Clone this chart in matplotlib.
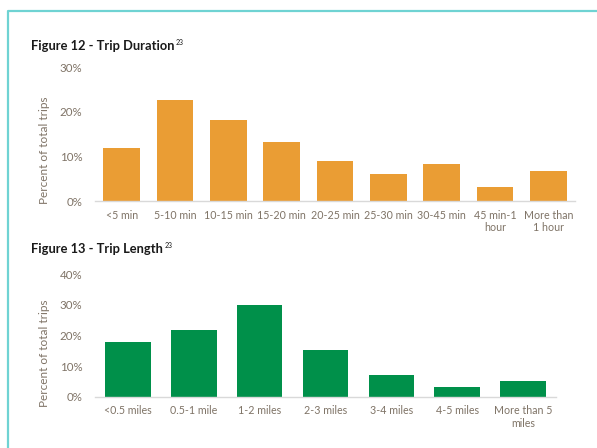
import matplotlib
matplotlib.use("Agg")
import matplotlib.pyplot as plt
from matplotlib.lines import Line2D
from matplotlib.ticker import FuncFormatter

dur_labels = ["<5 min", "5-10 min", "10-15 min", "15-20 min", "20-25 min",
              "25-30 min", "30-45 min", "45 min-1\nhour", "More than\n1 hour"]
dur_values = [11.9, 22.6, 18.1, 13.3, 9.0, 6.1, 8.4, 3.1, 6.8]

len_labels = ["<0.5 miles", "0.5-1 mile", "1-2 miles", "2-3 miles",
              "3-4 miles", "4-5 miles", "More than 5\nmiles"]
len_values = [17.8, 21.8, 30.0, 15.3, 7.1, 3.3, 5.1]

W, H = 597, 448
plt.rcParams['font.family'] = ['Lato', 'DejaVu Sans']
TXT = '#7f7366'
ORANGE = '#EA9D34'
GREEN = '#00904A'

fig = plt.figure(figsize=(W / 100, H / 100), dpi=100)

def fx(px):
    return px / W

def fy(py):
    return 1 - py / H

# teal frame
fig.add_artist(Line2D([fx(8), fx(8), 1.01], [-0.01, fy(11), fy(11)],
                      color='#6fd3d3', lw=1.6, transform=fig.transFigure))

def make_axes(left, right, top, bottom, labels, values, color, ymax, step, label_y):
    ax = fig.add_axes([fx(left), fy(bottom), fx(right) - fx(left), fy(top) - fy(bottom)])
    x = list(range(len(labels)))
    ax.bar(x, values, width=0.69, color=color, edgecolor='none')
    ax.set_xlim(-0.5, len(labels) - 0.5)
    ax.set_ylim(0, ymax)
    ax.set_yticks(list(range(0, ymax + 1, step)))
    ax.yaxis.set_major_formatter(FuncFormatter(lambda v, p: f"{int(v)}%"))
    ax.set_xticks(x)
    ax.set_xticklabels(labels, fontsize=7.7, color=TXT, linespacing=1.2)
    for s in ['top', 'right', 'left']:
        ax.spines[s].set_visible(False)
    ax.spines['bottom'].set_color('#d9d9d9')
    ax.spines['bottom'].set_linewidth(1)
    ax.tick_params(axis='y', length=0, labelsize=8.3, labelcolor=TXT, pad=9)
    ax.tick_params(axis='x', length=0, labelcolor=TXT, pad=6)
    ax.set_ylabel("Percent of total trips", fontsize=8.5, color=TXT)
    ax.yaxis.set_label_coords(fx(50), fy(label_y), transform=fig.transFigure)
    return ax

ax1 = make_axes(95, 575, 67.3, 201.3, dur_labels, dur_values, ORANGE, 30, 10, 150)
ax2 = make_axes(95, 556, 274.3, 396.7, len_labels, len_values, GREEN, 40, 10, 353)

titles = [("Figure 12 - Trip Duration", 46), ("Figure 13 - Trip Length", 249)]
fig.canvas.draw()
renderer = fig.canvas.get_renderer()
for t, y in titles:
    txt = fig.text(fx(31), fy(y), t, fontsize=9.3, fontweight='bold', color='#1a1a1a',
                   ha='left', va='center')
    bb = txt.get_window_extent(renderer=renderer)
    fig.text(bb.x1 / W + fx(1.5), fy(y - 3.5), "23", fontsize=5, color='#1a1a1a',
             ha='left', va='center')

fig.savefig("out.png", dpi=100)
